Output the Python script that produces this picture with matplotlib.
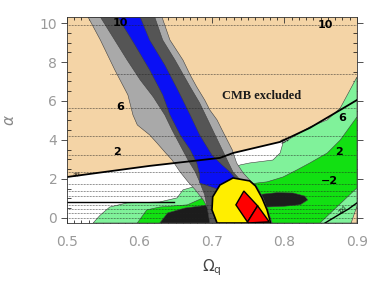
import numpy as np
import matplotlib
matplotlib.use("Agg")
import matplotlib.pyplot as plt
from matplotlib.patches import Polygon

# ---- data (Omega_q, alpha) ----
# outer (light gray) band, left and right edges, top -> bottom
lg_left = [(0.529, 10.31), (0.546, 9.13), (0.566, 7.59), (0.584, 6.31), (0.591, 5.28),
           (0.597, 4.77), (0.614, 4.26), (0.624, 3.85), (0.635, 3.38), (0.645, 2.97),
           (0.656, 2.36), (0.667, 1.85), (0.677, 1.44), (0.688, 0.92), (0.697, 0.31),
           (0.701, -0.26)]
lg_right = [(0.631, 10.31), (0.642, 9.13), (0.660, 8.10), (0.670, 7.33), (0.679, 6.72),
            (0.690, 6.05), (0.697, 5.54), (0.707, 5.03), (0.714, 4.51), (0.721, 4.00),
            (0.728, 3.49), (0.734, 2.82), (0.743, 2.31), (0.752, 1.95), (0.762, 1.59),
            (0.770, 1.08), (0.777, 0.41), (0.783, -0.26)]
# middle (dark gray) band
dg_left = [(0.546, 10.31), (0.583, 8.10), (0.601, 7.08), (0.619, 6.21), (0.635, 5.28),
           (0.645, 4.51), (0.656, 3.74), (0.667, 2.97), (0.677, 2.36), (0.683, 1.85),
           (0.690, 1.18), (0.694, 0.41), (0.697, -0.26)]
dg_right = [(0.621, 10.31), (0.632, 9.13), (0.649, 8.10), (0.670, 6.72), (0.683, 5.90),
            (0.693, 5.13), (0.701, 4.51), (0.711, 3.74), (0.721, 2.97), (0.729, 2.36),
            (0.739, 1.95), (0.752, 1.44), (0.763, 0.92), (0.769, 0.31), (0.773, -0.26)]
# inner (blue) band
blue_left = [(0.570, 10.31), (0.594, 8.85), (0.614, 7.59), (0.632, 6.31), (0.642, 5.28),
             (0.656, 4.26), (0.670, 3.49), (0.679, 2.82), (0.683, 2.21), (0.683, 1.79),
             (0.711, 1.44)]
blue_right = [(0.601, 10.31), (0.614, 9.13), (0.635, 7.85), (0.653, 6.56), (0.670, 5.28),
              (0.683, 4.26), (0.700, 3.23), (0.714, 2.72), (0.725, 2.36), (0.734, 1.95)]

# second constraint: light green, green, black
lgreen = [(0.536, -0.26), (0.546, 0.15), (0.559, 0.56), (0.583, 0.77), (0.628, 0.82),
          (0.652, 1.03), (0.660, 1.44), (0.674, 1.59), (0.690, 1.79), (0.739, 2.72),
          (0.752, 2.82), (0.784, 2.97), (0.794, 3.33), (0.798, 3.85), (0.821, 4.36),
          (0.835, 4.67), (0.859, 5.03), (0.877, 5.64), (0.900, 7.23), (0.900, -0.26)]
mgreen = [(0.597, -0.26), (0.610, 0.41), (0.628, 0.56), (0.666, 0.67), (0.697, 1.18),
          (0.725, 1.54), (0.762, 1.79), (0.776, 1.85), (0.798, 2.10), (0.817, 2.46),
          (0.835, 2.82), (0.859, 3.33), (0.877, 4.00), (0.900, 5.18), (0.900, 1.54),
          (0.849, -0.26)]
black_reg = [(0.628, -0.26), (0.639, 0.26), (0.663, 0.51), (0.697, 0.67), (0.739, 0.87),
             (0.770, 1.22), (0.790, 1.30), (0.812, 1.28), (0.828, 1.12), (0.832, 0.92),
             (0.822, 0.68), (0.800, 0.60), (0.776, 0.56), (0.739, 0.31), (0.711, -0.26)]
tan_corner = [(0.892, -0.26), (0.900, 0.60), (0.900, -0.26)]

# combined region
yellow = [(0.701, 1.08), (0.711, 1.69), (0.729, 2.05), (0.752, 1.90), (0.760, 1.64),
          (0.769, 1.03), (0.776, 0.41), (0.781, -0.26), (0.707, -0.26), (0.700, 0.41)]
red1 = [(0.733, 0.67), (0.744, 1.38), (0.763, 0.62), (0.749, -0.21)]
red2 = [(0.763, 0.62), (0.779, -0.20), (0.749, -0.26), (0.749, -0.21)]

# black curves
curve_x = [0.500, 0.614, 0.711, 0.729, 0.794, 0.835, 0.877, 0.900]
curve_y = [2.10, 2.67, 3.08, 3.33, 3.90, 4.62, 5.54, 6.05]
low_x = [0.500, 0.648]
low_y = [0.82, 0.82]
corner_x = [0.856, 0.872, 0.888, 0.900]
corner_y = [-0.26, 0.10, 0.45, 0.77]

# dotted contour levels
dot_levels = [9.9, 7.4, 5.64, 4.2, 3.25, 2.38, 1.75, 1.4, 1.1, 0.68, 0.45, 0.25, 0.02]
dot_start = [0.5, 0.559, 0.5, 0.5, 0.5, 0.5, 0.5, 0.5, 0.5, 0.5, 0.5, 0.5, 0.5]

# contour labels
lab_text = ["10", "10", "6", "6", "2", "2", "\u22122"]
lab_x = [0.573, 0.857, 0.573, 0.879, 0.569, 0.875, 0.862]
lab_y = [10.0, 9.92, 5.69, 5.13, 3.40, 3.38, 1.90]

xticks = [0.5, 0.6, 0.7, 0.8, 0.9]
yticks = [0, 2, 4, 6, 8, 10]

TAN = "#f4d4a6"

fig = plt.figure(figsize=(3.82, 2.86), dpi=100)
ax = fig.add_axes([0.1754, 0.2203, 0.759, 0.7203])
ax.set_facecolor(TAN)
ax.set_xlim(0.5, 0.9)
ax.set_ylim(-0.26, 10.31)

edge = dict(edgecolor="#404040", linewidth=0.4)

# white region below the black curve
white = list(zip(curve_x[:6], curve_y[:6])) + [(0.86, 5.1), (0.86, -0.26), (0.5, -0.26)]
ax.add_patch(Polygon(white, closed=True, facecolor="white", edgecolor="none", zorder=1))
ax.add_patch(Polygon(lgreen, closed=True, facecolor="#80f29a", zorder=2, **edge))
ax.add_patch(Polygon(mgreen, closed=True, facecolor="#12e012", zorder=3, **edge))
ax.add_patch(Polygon(black_reg, closed=True, facecolor="#1c1c1c", zorder=4, **edge))
ax.add_patch(Polygon(tan_corner, closed=True, facecolor=TAN, zorder=4, **edge))

ax.add_patch(Polygon(lg_left + lg_right[::-1], closed=True, facecolor="#a9a9a9", zorder=5, **edge))
ax.add_patch(Polygon(dg_left + dg_right[::-1], closed=True, facecolor="#555555", zorder=6, **edge))
ax.add_patch(Polygon(blue_left + blue_right[::-1], closed=True, facecolor="#0a10f5", zorder=7, **edge))

# dotted lines
for lev, x0 in zip(dot_levels, dot_start):
    ax.plot([x0, 0.9], [lev, lev], color="#222222", lw=0.45, ls=(0, (1.2, 1.2)), zorder=8)

ax.plot(curve_x, curve_y, color="black", lw=1.3, zorder=9)
ax.plot(low_x, low_y, color="black", lw=1.0, zorder=9)
ax.plot(corner_x, corner_y, color="black", lw=1.0, zorder=9)

ax.add_patch(Polygon(yellow, closed=True, facecolor="#ffee00", edgecolor="black", lw=1.2,
                     joinstyle="miter", zorder=10))
ax.add_patch(Polygon(red1, closed=True, facecolor="#ff0000", edgecolor="black", lw=1.0, zorder=11))
ax.add_patch(Polygon(red2, closed=True, facecolor="#ff0000", edgecolor="black", lw=1.0, zorder=11))

for t, x, y in zip(lab_text, lab_x, lab_y):
    ax.text(x, y, t, fontsize=8, fontweight="bold", ha="center", va="center", zorder=12)

ax.text(0.515, 2.22, "90L", fontsize=3.5, rotation=8, ha="center", va="center", zorder=12)
ax.text(0.801, 3.98, "201", fontsize=3.5, rotation=25, ha="center", va="center", zorder=12)
ax.text(0.881, 0.42, "200", fontsize=3.5, rotation=45, ha="center", va="center", zorder=12)

ax.text(0.768, 6.25, "CMB excluded", family="Liberation Serif", fontweight="bold",
        fontsize=9, ha="center", va="center", color="#1a1a1a", zorder=12)

ax.set_xticks(xticks)
ax.set_xticklabels([f"{v:.1f}" for v in xticks])
ax.set_yticks(yticks)
ax.set_xticks(np.arange(0.5, 0.9001, 0.01), minor=True)
ax.set_yticks(np.arange(0, 10.31, 0.5), minor=True)
ax.tick_params(axis="both", which="major", labelsize=10, labelcolor="#9a9a9a",
               color="#333333", width=0.6)
ax.tick_params(axis="x", which="both", direction="in", top=True, bottom=True, pad=9)
ax.tick_params(axis="x", which="major", length=4)
ax.tick_params(axis="x", which="minor", length=2, width=0.5)
ax.tick_params(axis="y", which="major", direction="out", length=4, left=True, right=True, pad=3)
ax.tick_params(axis="y", which="minor", direction="in", length=3, width=0.5, left=True, right=True)
for s in ax.spines.values():
    s.set_linewidth(0.6)
    s.set_color("#333333")
    s.set_zorder(13)

ax.set_xlabel(r"$\Omega_{\rm q}$", fontsize=11, color="#444444", labelpad=6)
ax.set_ylabel(r"$\alpha$", fontsize=11, color="#888888", labelpad=16)

fig.savefig("out.png", dpi=100)
